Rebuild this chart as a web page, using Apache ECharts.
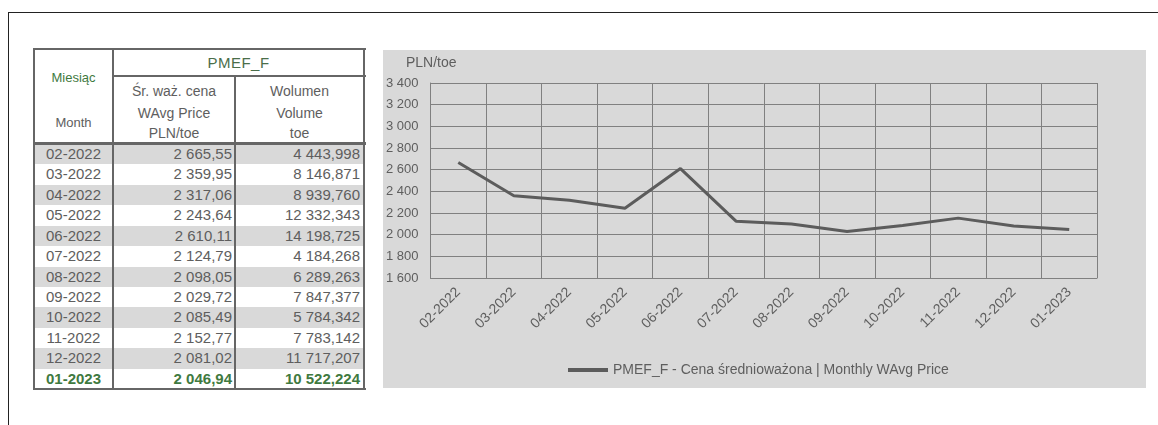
<!DOCTYPE html>
<html>
<head>
<meta charset="utf-8">
<script src="https://cdn.jsdelivr.net/npm/echarts@6/dist/echarts.min.js"></script>
<style>
  html, body { margin: 0; padding: 0; background: #fff; width: 1158px; height: 425px; overflow: hidden;
    font-family: "Liberation Sans", Arial, sans-serif; }
  #frame { position: absolute; left: 8px; top: 12px; width: 1150px; height: 413px;
    border-top: 1px solid #222; border-left: 1px solid #222; box-sizing: border-box; }
  #tbl { position: absolute; left: 0; top: 0; width: 400px; height: 425px; }
  .cell { position: absolute; white-space: nowrap; box-sizing: border-box; }
  .ln { position: absolute; background: #666; }
  .shade { position: absolute; background: #d9d9d9; }
  #chart { position: absolute; left: 383px; top: 50px; width: 763px; height: 338px; }
</style>
</head>
<body>
<div id="frame"></div>
<div id="tbl"></div>
<div id="chart"></div>
<script>
// Monthly weighted average price (PLN/toe) and volume (toe) for PMEF_F
const months = ['02-2022', '03-2022', '04-2022', '05-2022', '06-2022', '07-2022',
                '08-2022', '09-2022', '10-2022', '11-2022', '12-2022', '01-2023'];
const prices = [2665.55, 2359.95, 2317.06, 2243.64, 2610.11, 2124.79,
                2098.05, 2029.72, 2085.49, 2152.77, 2081.02, 2046.94];
const volumes = [4443.998, 8146.871, 8939.760, 12332.343, 14198.725, 4184.268,
                 6289.263, 7847.377, 5784.342, 7783.142, 11717.207, 10522.224];
const yMin = 1600;
const yMax = 3400;
const yStep = 200;
const seriesName = 'PMEF_F - Cena średnioważona | Monthly WAvg Price';

// Polish number format: space as thousands separator, comma as decimal mark
function fmtPl(v, decimals) {
  const parts = v.toFixed(decimals).split('.');
  const intPart = parts[0].replace(/\B(?=(\d{3})+(?!\d))/g, ' ');
  return parts.length > 1 ? intPart + ',' + parts[1] : intPart;
}

// ---- Table ----
const tbl = document.getElementById('tbl');
function add(cls, x, y, w, h, css, text) {
  const d = document.createElement('div');
  d.className = cls;
  d.style.left = x + 'px'; d.style.top = y + 'px';
  d.style.width = w + 'px'; d.style.height = h + 'px';
  if (css) Object.assign(d.style, css);
  if (text !== undefined) d.textContent = text;
  tbl.appendChild(d);
  return d;
}

const colX = [34, 113, 235, 364];
const tTop = 49, subTop = 76, dataTop = 144, rowH = 20.42;
const tBottom = dataTop + months.length * rowH;
const grey = '#5e5e5e', green = '#3f7a3f';

// alternating row shading
months.forEach((m, i) => {
  if (i % 2 === 0 && i < months.length - 1) {
    add('shade', colX[0], dataTop + i * rowH, colX[3] - colX[0], rowH);
  }
});

// header texts
function hText(x, w, cy, text, css) {
  add('cell', x, cy - 10, w, 20,
      Object.assign({ textAlign: 'center', lineHeight: '20px', fontSize: '14px', color: grey }, css || {}), text);
}
hText(colX[0], colX[1] - colX[0], 78, 'Miesiąc', { color: green, fontSize: '13px' });
hText(colX[0], colX[1] - colX[0], 123, 'Month', { fontSize: '13px' });
hText(colX[1], colX[3] - colX[1], 63, 'PMEF_F', { color: '#4a6e4a', fontSize: '15px', letterSpacing: '0.5px' });
hText(colX[1], colX[2] - colX[1], 91, 'Śr. waż. cena');
hText(colX[1], colX[2] - colX[1], 113, 'WAvg Price');
hText(colX[1], colX[2] - colX[1], 133, 'PLN/toe');
hText(colX[2], colX[3] - colX[2], 91, 'Wolumen');
hText(colX[2], colX[3] - colX[2], 113, 'Volume');
hText(colX[2], colX[3] - colX[2], 133, 'toe');

// data rows
months.forEach((m, i) => {
  const y = dataTop + i * rowH;
  const last = i === months.length - 1;
  const css = { lineHeight: rowH + 'px', fontSize: '15px', color: last ? green : grey,
                fontWeight: last ? 'bold' : 'normal' };
  add('cell', colX[0], y, colX[1] - colX[0], rowH, Object.assign({ textAlign: 'center' }, css), m);
  add('cell', colX[1], y, colX[2] - colX[1] - 3, rowH, Object.assign({ textAlign: 'right' }, css), fmtPl(prices[i], 2));
  add('cell', colX[2], y, colX[3] - colX[2] - 4, rowH, Object.assign({ textAlign: 'right' }, css), fmtPl(volumes[i], 3));
});

// grid lines of the table
add('ln', colX[0] - 1, tTop - 1, colX[3] - colX[0] + 3, 2);
add('ln', colX[1], subTop - 1, colX[3] - colX[1] + 2, 2);
add('ln', colX[0] - 1, dataTop - 2, colX[3] - colX[0] + 3, 3);
add('ln', colX[0] - 1, tBottom - 1, colX[3] - colX[0] + 3, 2);
add('ln', colX[0] - 1, tTop - 1, 2, tBottom - tTop + 2);
add('ln', colX[1] - 1, tTop - 1, 2, tBottom - tTop + 2);
add('ln', colX[2] - 1, subTop - 1, 2, tBottom - subTop + 2);
add('ln', colX[3] - 1, tTop - 1, 2, tBottom - tTop + 2);

// ---- Chart ----
const chart = echarts.init(document.getElementById('chart'), null, { renderer: 'canvas' });
const gridColor = '#808080';
const textColor = '#5e5e5e';
chart.setOption({
  animation: false,
  backgroundColor: '#d9d9d9',
  textStyle: { fontFamily: '"Liberation Sans", Arial, sans-serif' },
  grid: { left: 47, top: 33, width: 667, height: 195, containLabel: false },
  xAxis: {
    type: 'category',
    data: months,
    boundaryGap: true,
    axisLine: { show: true, lineStyle: { color: gridColor, width: 1 } },
    axisTick: { show: false },
    splitLine: { show: true, lineStyle: { color: gridColor, width: 1 } },
    axisLabel: { interval: 0, rotate: 45, color: textColor, fontSize: 14, margin: 12 }
  },
  yAxis: {
    type: 'value',
    min: yMin, max: yMax, interval: yStep,
    axisLine: { show: true, lineStyle: { color: gridColor, width: 1 } },
    axisTick: { show: false },
    splitLine: { show: true, lineStyle: { color: gridColor, width: 1 } },
    axisLabel: { color: textColor, fontSize: 13, margin: 12, formatter: v => fmtPl(v, 0) }
  },
  legend: {
    left: 180, top: 308,
    icon: 'rect', itemWidth: 40, itemHeight: 4,
    textStyle: { color: textColor, fontSize: 14 },
    data: [seriesName]
  },
  graphic: [{
    type: 'text', left: 23, top: 6,
    style: { text: 'PLN/toe', fill: textColor, font: '14px "Liberation Sans", Arial, sans-serif' }
  }],
  series: [{
    name: seriesName,
    type: 'line',
    data: prices,
    symbol: 'none',
    showSymbol: false,
    lineStyle: { color: '#5c5c5c', width: 3 },
    itemStyle: { color: '#5c5c5c' }
  }]
});
</script>
</body>
</html>
